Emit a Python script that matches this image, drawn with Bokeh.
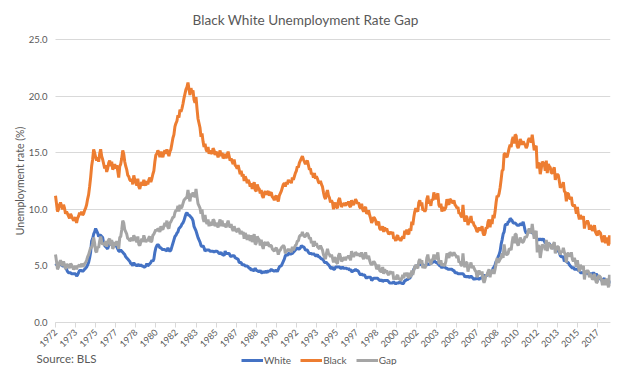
import math
from bokeh.plotting import figure
from bokeh.models import (Range1d, FixedTicker, NumeralTickFormatter, Legend,
                          LegendItem, Label, ColumnDataSource)
from bokeh.embed import file_html
from bokeh.resources import INLINE

# Monthly unemployment rates (%), Jan 1972 - Feb 2018
white = [
    5.2, 5.1, 5.1, 5.1, 5.1, 5.1, 5.1, 5.0, 5.0, 5.0, 4.9, 4.7,   # 1972
    4.5, 4.4, 4.4, 4.4, 4.3, 4.3, 4.3, 4.3, 4.3, 4.1, 4.2, 4.4,   # 1973
    4.6, 4.6, 4.6, 4.5, 4.6, 4.7, 4.8, 4.9, 5.1, 5.3, 5.7, 6.2,   # 1974
    7.2, 7.4, 7.8, 8.0, 8.3, 8.1, 7.9, 7.6, 7.7, 7.7, 7.6, 7.5,   # 1975
    7.0, 6.8, 6.7, 6.6, 6.5, 6.8, 6.9, 7.0, 6.9, 7.0, 7.0, 6.9,   # 1976
    6.8, 6.7, 6.5, 6.3, 6.3, 6.4, 6.3, 6.2, 6.1, 6.0, 5.8, 5.7,   # 1977
    5.6, 5.5, 5.4, 5.2, 5.2, 5.0, 5.3, 5.1, 5.1, 5.0, 5.1, 5.1,   # 1978
    5.0, 5.1, 5.0, 5.0, 4.9, 4.9, 5.0, 5.2, 5.0, 5.1, 5.2, 5.3,   # 1979
    5.5, 5.4, 5.6, 6.2, 6.6, 6.8, 6.9, 6.8, 6.6, 6.6, 6.5, 6.4,   # 1980
    6.5, 6.4, 6.4, 6.3, 6.6, 6.4, 6.3, 6.4, 6.7, 7.0, 7.3, 7.6,   # 1981
    7.7, 7.9, 8.0, 8.3, 8.4, 8.5, 8.7, 8.8, 9.0, 9.3, 9.6, 9.7,   # 1982
    9.5, 9.5, 9.4, 9.3, 9.2, 9.0, 8.5, 8.3, 8.1, 7.8, 7.5, 7.3,   # 1983
    7.1, 6.8, 6.7, 6.8, 6.6, 6.3, 6.4, 6.4, 6.4, 6.4, 6.3, 6.3,   # 1984
    6.3, 6.3, 6.2, 6.3, 6.3, 6.3, 6.2, 6.1, 6.1, 6.2, 6.0, 6.0,   # 1985
    5.9, 6.3, 6.1, 6.1, 6.1, 6.1, 5.9, 5.8, 5.9, 5.9, 5.9, 5.7,   # 1986
    5.7, 5.6, 5.6, 5.3, 5.3, 5.3, 5.1, 5.1, 5.1, 5.0, 5.0, 5.0,   # 1987
    4.9, 4.8, 4.8, 4.6, 4.7, 4.6, 4.6, 4.8, 4.6, 4.6, 4.5, 4.5,   # 1988
    4.6, 4.4, 4.4, 4.5, 4.4, 4.5, 4.5, 4.4, 4.6, 4.5, 4.6, 4.7,   # 1989
    4.6, 4.6, 4.5, 4.6, 4.6, 4.5, 4.7, 4.9, 5.0, 5.0, 5.2, 5.4,   # 1990
    5.6, 5.9, 6.0, 5.9, 6.1, 6.1, 6.0, 6.1, 6.1, 6.2, 6.3, 6.4,   # 1991
    6.5, 6.6, 6.5, 6.5, 6.6, 6.8, 6.7, 6.7, 6.6, 6.4, 6.4, 6.4,   # 1992
    6.2, 6.1, 6.1, 6.1, 6.0, 6.1, 6.0, 5.9, 5.9, 6.0, 5.8, 5.8,   # 1993
    5.7, 5.6, 5.6, 5.5, 5.3, 5.3, 5.3, 5.2, 5.1, 5.0, 4.8, 4.8,   # 1994
    4.9, 4.7, 4.7, 4.9, 4.9, 4.9, 4.9, 4.9, 4.8, 4.8, 4.9, 4.8,   # 1995
    4.8, 4.8, 4.8, 4.7, 4.8, 4.6, 4.7, 4.5, 4.5, 4.6, 4.6, 4.7,   # 1996
    4.6, 4.6, 4.5, 4.3, 4.2, 4.3, 4.2, 4.2, 4.2, 4.0, 3.9, 4.0,   # 1997
    4.0, 4.0, 4.0, 3.7, 3.8, 3.9, 3.9, 3.9, 3.9, 3.9, 3.8, 3.7,   # 1998
    3.7, 3.8, 3.6, 3.7, 3.7, 3.7, 3.7, 3.7, 3.6, 3.5, 3.5, 3.5,   # 1999
    3.5, 3.6, 3.5, 3.4, 3.5, 3.5, 3.5, 3.6, 3.5, 3.5, 3.4, 3.5,   # 2000
    3.7, 3.7, 3.8, 3.8, 3.9, 3.9, 4.1, 4.3, 4.4, 4.7, 4.9, 5.0,   # 2001
    5.0, 5.0, 5.2, 5.2, 5.1, 5.1, 5.1, 5.0, 5.0, 5.0, 5.2, 5.2,   # 2002
    5.1, 5.2, 5.2, 5.3, 5.3, 5.5, 5.4, 5.3, 5.3, 5.2, 5.1, 5.0,   # 2003
    5.0, 4.8, 5.0, 4.9, 4.9, 4.8, 4.8, 4.7, 4.7, 4.7, 4.7, 4.7,   # 2004
    4.6, 4.6, 4.4, 4.4, 4.4, 4.3, 4.3, 4.3, 4.3, 4.3, 4.3, 4.2,   # 2005
    4.0, 4.1, 4.0, 4.1, 4.0, 4.0, 4.1, 4.0, 3.9, 3.8, 3.9, 3.8,   # 2006
    4.0, 3.9, 3.8, 3.9, 3.9, 4.0, 4.1, 4.2, 4.1, 4.2, 4.1, 4.4,   # 2007
    4.4, 4.4, 4.5, 4.4, 4.8, 4.9, 5.1, 5.4, 5.5, 5.8, 6.0, 6.3,   # 2008
    6.9, 7.3, 7.8, 8.0, 8.6, 8.7, 8.6, 8.9, 8.9, 9.2, 9.1, 9.0,   # 2009
    8.8, 8.8, 8.8, 8.7, 8.6, 8.6, 8.6, 8.7, 8.7, 8.6, 8.9, 8.5,   # 2010
    8.1, 7.9, 7.9, 8.0, 8.0, 8.1, 8.0, 7.9, 7.9, 7.8, 7.6, 7.5,   # 2011
    7.4, 7.3, 7.3, 7.4, 7.3, 7.3, 7.4, 7.2, 7.0, 7.0, 6.9, 6.9,   # 2012
    7.0, 6.8, 6.7, 6.6, 6.6, 6.6, 6.5, 6.4, 6.4, 6.3, 6.2, 5.9,   # 2013
    5.8, 5.8, 5.8, 5.4, 5.5, 5.4, 5.3, 5.3, 5.1, 5.0, 4.9, 4.8,   # 2014
    4.9, 4.7, 4.7, 4.7, 4.7, 4.6, 4.6, 4.4, 4.4, 4.4, 4.4, 4.5,   # 2015
    4.4, 4.3, 4.4, 4.3, 4.2, 4.3, 4.3, 4.3, 4.4, 4.3, 4.2, 4.3,   # 2016
    4.1, 4.0, 3.9, 3.9, 3.7, 3.8, 3.8, 3.9, 3.7, 3.6, 3.7, 3.7,   # 2017
    3.5, 3.7,                                                     # 2018
]

black = [
    11.2, 10.5, 9.8, 10.0, 10.4, 10.6, 10.3, 10.0, 10.4, 10.1, 9.6, 9.8,    # 1972
    9.6, 9.4, 9.2, 9.6, 9.4, 9.2, 9.0, 9.1, 9.3, 8.8, 9.2, 9.4,             # 1973
    9.7, 9.5, 9.8, 9.5, 9.6, 9.9, 10.1, 10.4, 10.9, 11.3, 12.0, 12.8,       # 1974
    13.8, 14.4, 15.3, 15.0, 14.6, 14.3, 14.6, 14.2, 14.9, 15.3, 14.7, 14.4, # 1975
    14.0, 13.6, 13.9, 13.3, 13.6, 14.1, 14.3, 13.8, 14.2, 13.5, 13.7, 14.0, # 1976
    13.6, 13.9, 13.4, 12.8, 13.8, 14.0, 14.5, 15.2, 14.9, 14.2, 13.8, 13.5, # 1977
    13.0, 12.9, 12.6, 12.5, 12.7, 12.2, 13.0, 12.6, 12.4, 12.1, 12.7, 12.0, # 1978
    11.8, 12.2, 12.4, 12.1, 12.6, 12.3, 12.1, 12.5, 12.2, 12.6, 12.8, 12.4, # 1979
    12.7, 13.1, 13.4, 14.2, 14.8, 14.9, 15.2, 15.0, 14.6, 15.1, 14.8, 14.6, # 1980
    15.0, 15.2, 14.9, 15.3, 15.0, 14.7, 15.1, 15.3, 15.8, 16.3, 16.6, 17.3, # 1981
    17.6, 17.8, 18.3, 18.1, 18.8, 18.6, 18.9, 19.3, 19.8, 20.2, 20.6, 20.8, # 1982
    21.2, 20.6, 20.1, 20.7, 20.3, 20.5, 19.7, 19.4, 19.9, 18.9, 18.0, 17.6, # 1983
    17.2, 16.4, 16.7, 16.0, 15.5, 15.8, 15.3, 15.1, 15.5, 14.9, 15.2, 15.0, # 1984
    14.9, 15.4, 15.2, 14.8, 15.1, 14.9, 14.6, 14.9, 15.2, 14.7, 15.0, 14.5, # 1985
    14.6, 14.9, 14.5, 14.8, 15.1, 14.7, 14.3, 14.5, 14.2, 14.0, 14.4, 13.9, # 1986
    13.8, 13.6, 13.9, 13.5, 13.1, 13.4, 12.9, 13.1, 12.5, 12.9, 12.7, 12.3, # 1987
    12.6, 12.4, 12.0, 12.3, 11.8, 12.1, 12.4, 11.7, 11.6, 12.2, 11.9, 11.8, # 1988
    11.4, 11.7, 11.2, 11.0, 11.4, 11.6, 11.3, 11.5, 11.6, 11.2, 11.4, 11.5, # 1989
    11.1, 11.0, 10.8, 11.1, 11.2, 10.9, 10.7, 11.2, 11.4, 11.6, 11.9, 12.2, # 1990
    12.3, 12.0, 12.4, 12.2, 12.6, 12.4, 12.5, 12.3, 12.8, 12.6, 12.9, 13.2, # 1991
    13.4, 13.8, 13.7, 14.1, 14.3, 14.5, 14.7, 14.4, 14.2, 14.0, 14.2, 14.3, # 1992
    13.9, 13.5, 13.6, 13.1, 13.2, 12.8, 13.2, 12.7, 12.9, 12.7, 12.4, 12.3, # 1993
    12.5, 12.2, 12.0, 11.5, 11.1, 10.9, 11.4, 11.7, 11.2, 11.0, 10.6, 10.8, # 1994
    10.6, 10.0, 10.4, 10.6, 10.2, 10.1, 10.8, 11.0, 10.6, 10.2, 10.4, 10.5, # 1995
    10.5, 10.3, 10.6, 10.4, 10.7, 10.3, 10.2, 10.8, 10.5, 10.4, 10.6, 10.9, # 1996
    10.7, 10.5, 10.6, 10.2, 10.1, 10.5, 10.0, 9.8, 10.1, 10.2, 9.6, 9.7,    # 1997
    9.9, 9.5, 9.2, 8.8, 9.0, 9.3, 9.2, 9.0, 8.6, 8.8, 8.9, 8.3,             # 1998
    8.2, 8.3, 8.5, 8.0, 8.4, 8.1, 8.3, 8.0, 7.8, 7.9, 8.0, 7.8,             # 1999
    8.0, 7.4, 7.5, 7.2, 7.6, 7.7, 7.3, 7.5, 7.2, 7.4, 7.6, 7.4,             # 2000
    8.1, 7.8, 8.2, 7.9, 7.8, 8.3, 8.1, 8.9, 8.6, 9.3, 9.8, 10.1,            # 2001
    9.9, 9.8, 10.6, 10.8, 10.3, 10.6, 9.9, 10.0, 9.8, 10.0, 10.9, 11.2,     # 2002
    10.5, 10.7, 10.3, 10.9, 10.8, 11.5, 11.1, 10.9, 11.2, 11.4, 10.4, 10.2, # 2003
    10.5, 9.8, 10.2, 9.9, 10.0, 10.2, 10.9, 10.6, 10.4, 10.9, 10.8, 10.6,   # 2004
    10.6, 10.8, 10.4, 10.3, 10.1, 10.2, 9.6, 9.7, 9.4, 9.3, 10.4, 9.3,      # 2005
    8.9, 9.4, 9.3, 8.6, 8.9, 9.0, 9.4, 8.8, 8.9, 8.6, 8.5, 8.3,             # 2006
    8.0, 8.1, 8.4, 8.2, 8.2, 8.5, 7.9, 7.7, 7.9, 8.4, 8.3, 8.9,             # 2007
    9.1, 8.4, 9.1, 8.7, 9.5, 9.2, 9.8, 10.6, 11.2, 11.1, 11.4, 11.9,        # 2008
    12.6, 13.4, 13.5, 14.9, 14.9, 14.7, 14.6, 15.0, 15.4, 15.7, 15.5, 16.1, # 2009
    16.4, 15.8, 16.6, 16.5, 15.6, 15.4, 15.7, 16.2, 16.0, 15.7, 16.0, 15.8, # 2010
    15.7, 15.4, 15.6, 16.1, 16.3, 16.1, 15.9, 16.6, 15.9, 15.2, 15.5, 15.6, # 2011
    13.6, 14.1, 14.0, 13.1, 13.6, 14.2, 14.1, 14.0, 13.4, 14.3, 13.2, 14.0, # 2012
    13.8, 13.7, 13.2, 13.2, 13.5, 13.7, 12.6, 13.0, 13.1, 13.0, 12.5, 11.9, # 2013
    12.1, 12.0, 12.4, 11.6, 11.5, 10.7, 11.4, 11.4, 11.0, 10.9, 11.1, 10.4, # 2014
    10.3, 10.4, 10.1, 9.6, 10.2, 9.5, 9.1, 9.5, 9.2, 9.2, 9.4, 8.3,         # 2015
    8.8, 8.8, 9.0, 8.8, 8.2, 8.6, 8.4, 8.1, 8.3, 8.6, 8.0, 7.8,             # 2016
    7.7, 8.1, 8.0, 7.9, 7.5, 7.1, 7.4, 7.7, 7.0, 7.5, 7.3, 6.8,             # 2017
    7.7, 6.9,                                                               # 2018
]

# Gap series = Black minus White
gap = [round(b - w, 1) for b, w in zip(black, white)]

# Category-axis labels (Excel shows one every 20 months)
tick_labels = ["1972", "1973", "1975", "1977", "1978", "1980", "1982",
               "1983", "1985", "1987", "1988", "1990", "1992", "1993",
               "1995", "1997", "1998", "2000", "2002", "2003", "2005",
               "2007", "2008", "2010", "2012", "2013", "2015", "2017"]
label_interval = 20
tick_pos = [i * label_interval for i in range(len(tick_labels))]

y_ticks = [0, 5, 10, 15, 20, 25]

month = list(range(len(white)))
last = len(month) - 1
src = ColumnDataSource(dict(month=month, white=white, black=black, gap=gap))

TXT = "#595959"
GRID = "#D9D9D9"
FONT = "Lato"

# Layout (figure pixels): data x 0..last spans px 55..610, y 0..25 spans
# px 322..39; the frame is widened so that the axes (at fixed locations),
# legend and source note all lie inside it.
W, H = 614, 365
PL, PR, PT, PB = 55, 610, 39, 322
TOP = 30                      # frame top (title sits above)
px_x = (PR - PL) / last
px_y = (PB - PT) / 25.0

p = figure(width=W, height=H, output_backend="svg", toolbar_location=None,
           x_range=Range1d(-PL / px_x, last),
           y_range=Range1d(-(H - PB) / px_y, 25 + (PT - TOP) / px_y),
           min_border_left=0, min_border_right=W - PR, min_border_top=TOP,
           min_border_bottom=0, title="Black White Unemployment Rate Gap")
p.outline_line_color = None
p.background_fill_color = "white"
p.border_fill_color = "white"

p.title.align = "center"
p.title.offset = 10
p.title.text_font = FONT
p.title.text_font_size = "13.6px"
p.title.text_font_style = "normal"
p.title.text_color = TXT
p.title.standoff = 5

# x axis, drawn at y = 0
xa = p.xaxis[0]
xa.fixed_location = 0
xa.bounds = (0, last)
xa.ticker = FixedTicker(ticks=tick_pos, minor_ticks=[])
xa.major_label_overrides = {t: l for t, l in zip(tick_pos, tick_labels)}
xa.major_label_orientation = math.pi / 4
xa.major_label_text_font = FONT
xa.major_label_text_font_size = "9px"
xa.major_label_text_color = TXT
xa.major_label_standoff = 3
xa.axis_line_color = GRID
xa.major_tick_line_color = GRID
xa.major_tick_out = 5
xa.major_tick_in = 0
xa.minor_tick_line_color = None

# y axis, drawn at x = 0
ya = p.yaxis[0]
ya.fixed_location = 0
ya.bounds = (0, 25)
ya.ticker = FixedTicker(ticks=y_ticks, minor_ticks=[])
ya.formatter = NumeralTickFormatter(format="0.0")
ya.axis_label = "Unemployment rate (%)"
ya.axis_label_text_font = FONT
ya.axis_label_text_font_size = "10.5px"
ya.axis_label_text_font_style = "normal"
ya.axis_label_text_color = TXT
ya.axis_label_standoff = 0
ya.major_label_text_font = FONT
ya.major_label_text_font_size = "9.5px"
ya.major_label_text_color = TXT
ya.major_label_standoff = 8
ya.major_tick_out = 0
ya.major_tick_in = 0
ya.axis_line_color = None
ya.major_tick_line_color = None
ya.minor_tick_line_color = None

p.xgrid.grid_line_color = None
gr = p.ygrid[0]
gr.ticker = FixedTicker(ticks=y_ticks)
gr.grid_line_color = GRID
gr.grid_line_width = 1
if "cross_bounds" in gr.properties():
    gr.cross_bounds = (0, last)

lw = 3
r_w = p.line("month", "white", source=src, line_color="#4472C4", line_width=lw)
r_b = p.line("month", "black", source=src, line_color="#ED7D31", line_width=lw)
r_g = p.line("month", "gap", source=src, line_color="#A5A5A5", line_width=lw)

legend = Legend(items=[LegendItem(label="White", renderers=[r_w]),
                       LegendItem(label="Black", renderers=[r_b]),
                       LegendItem(label="Gap", renderers=[r_g])],
                orientation="horizontal", location=(241, -1),
                padding=0, margin=0, spacing=9, glyph_width=22,
                glyph_height=12, label_height=12, label_standoff=1,
                label_text_font=FONT, label_text_font_size="10px",
                label_text_color=TXT, background_fill_alpha=0,
                border_line_color=None)
p.add_layout(legend, "center")

p.add_layout(Label(x=36, y=7, x_units="screen", y_units="screen",
                   text="Source: BLS", text_font=FONT, text_font_size="11.5px",
                   text_color=TXT, text_baseline="middle", text_align="left"))

open("out.html", "w").write(file_html(p, INLINE))
